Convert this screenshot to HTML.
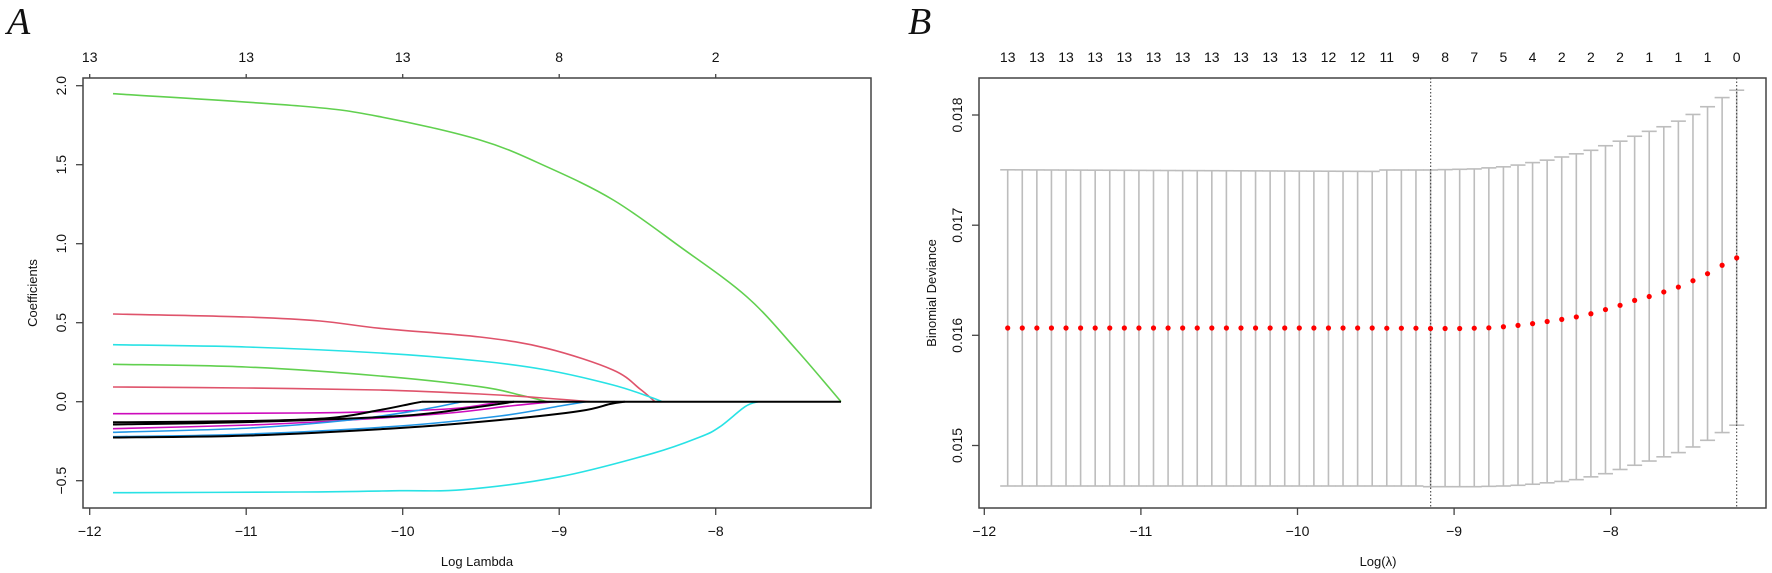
<!DOCTYPE html>
<html><head><meta charset="utf-8"><style>
html,body{margin:0;padding:0;background:#fff;}
svg{display:block;}
text{font-family:"Liberation Sans",sans-serif;fill:#111;}
</style></head><body>
<svg id="s" width="1772" height="573" xmlns="http://www.w3.org/2000/svg">
<rect x="0" y="0" width="1772" height="573" fill="#fff"/>
<text x="7" y="34" style="font-family:'Liberation Serif',serif;font-style:italic;font-size:38px">A</text>
<text x="908" y="34" style="font-family:'Liberation Serif',serif;font-style:italic;font-size:38px">B</text>
<g id="A"></g><g id="B"></g>
</svg>
<script>
var NS="http://www.w3.org/2000/svg";
function el(p,t,a,txt){var e=document.createElementNS(NS,t);for(var k in a)e.setAttribute(k,a[k]);if(txt!==undefined)e.textContent=txt;p.appendChild(e);return e;}
function cr(pts){var d="M"+pts[0][0]+","+pts[0][1];for(var i=0;i<pts.length-1;i++){var p0=pts[i-1]||pts[i],p1=pts[i],p2=pts[i+1],p3=pts[i+2]||p2;
var c1x=p1[0]+(p2[0]-p0[0])/6,c1y=p1[1]+(p2[1]-p0[1])/6,c2x=p2[0]-(p3[0]-p1[0])/6,c2y=p2[1]-(p3[1]-p1[1])/6;
d+=" C"+c1x.toFixed(1)+","+c1y.toFixed(1)+" "+c2x.toFixed(1)+","+c2y.toFixed(1)+" "+p2[0]+","+p2[1];}return d;}
var A=document.getElementById("A"),B=document.getElementById("B");
var AX="#444";
// ---------- Panel A ----------
var ax0=83,ax1=871,ay0=78,ay1=508;
var xt=[89.7,246.2,402.7,559.2,715.7],xl=["\u221212","\u221211","\u221210","\u22129","\u22128"],tl=["13","13","13","8","2"];
xt.forEach(function(x,i){el(A,"line",{x1:x,y1:ay1,x2:x,y2:ay1+7,stroke:AX,"stroke-width":1.3});
el(A,"text",{x:x,y:536,"text-anchor":"middle","font-size":"14"},xl[i]);
el(A,"line",{x1:x,y1:ay0,x2:x,y2:ay0-4,stroke:AX,"stroke-width":1.3});
el(A,"text",{x:x,y:62,"text-anchor":"middle","font-size":"14"},tl[i]);});
[2,1.5,1,0.5,0,-0.5].forEach(function(v){var y=401.7-158*v;el(A,"line",{x1:ax0,y1:y,x2:ax0-7,y2:y,stroke:AX,"stroke-width":1.3});
el(A,"text",{x:0,y:0,"text-anchor":"middle","font-size":"14",transform:"translate(66,"+y+") rotate(-90)"},v.toFixed(1).replace("-","\u2212"));});
el(A,"text",{x:0,y:0,"text-anchor":"middle","font-size":"13",transform:"translate(37,293) rotate(-90)"},"Coefficients");
el(A,"text",{x:477,y:566,"text-anchor":"middle","font-size":"13"},"Log Lambda");
var Z=401.7;
var curves=[
["#61D04F",[[113,93.7],[300,106],[380,116.7],[480,140],[546.7,166.7],[613.3,200],[680,246.7],[746.7,296.7],[796.7,350],[841,Z]]],
["#DF536B",[[113,314],[246,317],[320,321],[380,328.3],[480,337],[546.7,348.3],[613,370],[640,389],[655,Z]]],
["#28E2E5",[[113,344.7],[246,347],[380,353],[480,361],[546.7,370],[613,385],[650,397],[662,Z]]],
["#61D04F",[[113,364.3],[246,367],[380,376],[480,386.7],[520,395],[547,Z]]],
["#DF536B",[[113,387],[246,388],[380,390],[480,394],[550,398.5],[590,Z]]],
["#CD0BBC",[[113,413.7],[300,413],[400,411],[460,408],[501,Z]]],
["#CD0BBC",[[113,428.7],[250,425],[350,420],[450,413],[510,406],[555,Z]]],
["#2297E6",[[113,432.3],[250,428],[350,420],[420,410],[462,Z]]],
["#2297E6",[[113,436.7],[250,434],[400,426],[500,416],[560,406],[586,Z]]],
["#28E2E5",[[113,492.7],[300,492],[400,490.7],[463,489.7],[560,476.7],[653,453.3],[700,437],[720,426.7],[745,406.7],[758,Z]]],
["#000",[[113,422.3],[250,421],[330,418],[380,410],[410,404],[422,Z]]],
["#000",[[113,424.5],[250,422],[400,416],[470,408],[514,Z]]],
["#000",[[113,437.5],[250,435.5],[400,428],[500,420],[580,411],[610,404],[625,Z]]]
];
curves.forEach(function(c){el(A,"path",{d:cr(c[1]),fill:"none",stroke:c[0],"stroke-width":c[0]=="#000"?2:1.6});});
el(A,"line",{x1:422,y1:Z,x2:841,y2:Z,stroke:"#000","stroke-width":2});
el(A,"rect",{x:ax0,y:ay0,width:ax1-ax0,height:ay1-ay0,fill:"none",stroke:AX,"stroke-width":1.5});
// ---------- Panel B ----------
var bx0=979,bx1=1766;
var bxt=[984.3,1140.9,1297.5,1454.1,1610.7];
bxt.forEach(function(x,i){el(B,"line",{x1:x,y1:ay1,x2:x,y2:ay1+7,stroke:AX,"stroke-width":1.3});
el(B,"text",{x:x,y:536,"text-anchor":"middle","font-size":"14"},xl[i]);});
[[0.018,115],[0.017,225.2],[0.016,335.3],[0.015,445.5]].forEach(function(t){el(B,"line",{x1:bx0,y1:t[1],x2:bx0-7,y2:t[1],stroke:AX,"stroke-width":1.3});
el(B,"text",{x:0,y:0,"text-anchor":"middle","font-size":"14",transform:"translate(962,"+t[1]+") rotate(-90)"},t[0].toFixed(3));});
el(B,"text",{x:0,y:0,"text-anchor":"middle","font-size":"13",transform:"translate(936,293) rotate(-90)"},"Binomial Deviance");
el(B,"text",{x:1378,y:566,"text-anchor":"middle","font-size":"13"},"Log(\u03bb)");
var up=[],lo=[],dt=[];
var U=[436,436,436,436,435,434,433,430,427,422,415,408,399,390,380,367,354,340,326,313,297,278,256,230,209];
var Lz=[1335,1335,1335,1337,1337,1337,1337,1336,1335,1333,1330,1326,1322,1317,1309,1300,1288,1276,1264,1252,1240,1224,1205,1183,1162];
var D=[886,886,886,887,887,887,886,885,882,878,873,867,861,854,845,833,821,807,796,783,769,751,731,707,686];
function cz(z){return 16.74+0.3515*z;}
for(var i=0;i<51;i++){
 if(i<26){up.push(169.8+1.6*i/25);lo.push(486);dt.push(328);}
 else{up.push(cz(U[i-26]));lo.push(cz(Lz[i-26]));dt.push(cz(D[i-26]));}
}
var GC="#bdbdbd";
for(var i=0;i<51;i++){var x=1007.7+i*14.58;
 el(B,"line",{x1:x,y1:up[i],x2:x,y2:lo[i],stroke:GC,"stroke-width":1.6});
 el(B,"line",{x1:x-7.5,y1:up[i],x2:x+7.5,y2:up[i],stroke:GC,"stroke-width":1.6});
 el(B,"line",{x1:x-7.5,y1:lo[i],x2:x+7.5,y2:lo[i],stroke:GC,"stroke-width":1.6});}
[1430.7,1736.7].forEach(function(x){el(B,"line",{x1:x,y1:ay0,x2:x,y2:ay1,stroke:"#333","stroke-width":1,"stroke-dasharray":"1.5,2"});});
for(var i=0;i<51;i++){var x=1007.7+i*14.58;el(B,"circle",{cx:x,cy:dt[i],r:2.6,fill:"#f00"});}
var lab=["13","13","13","13","13","13","13","13","13","13","13","12","12","11","9","8","7","5","4","2","2","2","1","1","1","0"];
lab.forEach(function(t,k){el(B,"text",{x:1007.7+2*k*14.58,y:62,"text-anchor":"middle","font-size":"14"},t);});
el(B,"rect",{x:bx0,y:ay0,width:bx1-bx0,height:ay1-ay0,fill:"none",stroke:AX,"stroke-width":1.5});
</script>
</body></html>
